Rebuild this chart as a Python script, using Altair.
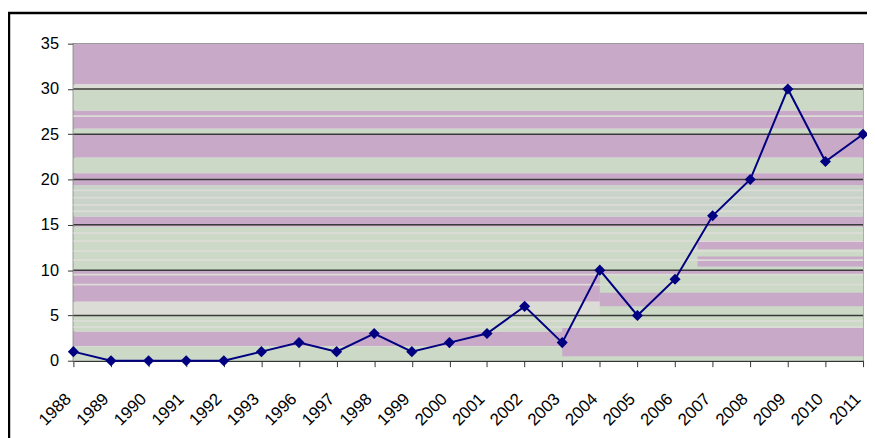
import altair as alt
import pandas as pd

# ---- data ----
years = ["1988", "1989", "1990", "1991", "1992", "1993", "1996", "1997", "1998",
         "1999", "2000", "2001", "2002", "2003", "2004", "2005", "2006", "2007",
         "2008", "2009", "2010", "2011"]
values = [1, 0, 0, 0, 0, 1, 2, 1, 3, 1, 2, 3, 6, 2, 10, 5, 9, 16, 20, 30, 22, 25]

y_ticks = [0, 5, 10, 15, 20, 25, 30, 35]
grid_values = [5, 10, 15, 20, 25, 30]

# background texture bands (value ranges, category index span, tone)
band_lo = [30.5, 30.0, 27.6, 25.6, 25.0, 22.4, 20.7, 19.4, 15.9, 14.8, 10.0, 6.5, 5.0, 3.2, 1.6, 0.0,
           0.5, 5.0, 6.0, 12.3, 10.4,
           18.7, 17.9, 17.1, 16.4, 14.0, 13.1, 12.0, 11.0, 4.3, 3.6, 9.4, 8.3, 26.9]
band_hi = [35.0, 30.5, 30.0, 27.6, 25.6, 25.0, 22.4, 20.7, 19.4, 15.9, 14.8, 10.0, 6.5, 5.0, 3.2, 1.6,
           3.6, 9.5, 7.5, 13.3, 11.5,
           18.9, 18.1, 17.3, 16.6, 14.2, 13.3, 12.2, 11.2, 4.5, 3.8, 9.6, 8.5, 27.1]
band_start = [0, 0, 0, 0, 0, 0, 0, 0, 0, 0, 0, 0, 0, 0, 0, 0,
              13, 14, 14, 16.6, 16.6,
              0, 0, 0, 0, 0, 0, 0, 0, 0, 0, 0, 0, 0]
band_end = [21] * 16 + [21, 21, 21, 21, 21] + [21] * 13
band_tone = ["p", "l", "g", "p", "g", "p", "g", "p", "m", "p", "g", "p", "l", "g", "p", "g",
             "p", "g", "p", "p", "p",
             "l", "l", "l", "l", "l", "l", "l", "l", "l", "l", "l", "l", "l"]

tone_domain = ["p", "g", "m", "l"]
tone_colors = ["#c8a9c7", "#cbd9c6", "#c9d3c9", "#dcdcd6"]

W, H = 797, 320

df = pd.DataFrame({"year": years, "value": values})
bands = pd.DataFrame({"lo": band_lo, "hi": band_hi, "x0": band_start, "x1": band_end, "tone": band_tone})
grid = pd.DataFrame({"g": grid_values})

yscale = alt.Scale(domain=[0, 35], nice=False, zero=True)
yaxis = alt.Axis(title=None, values=y_ticks, tickSize=6, tickColor="#333333",
                 domainColor="#808080", domainWidth=2, labelFontSize=16.5,
                 labelFont="Liberation Sans", labelColor="black", labelPadding=9,
                 grid=False)

bg = alt.Chart(bands).mark_rect(strokeWidth=0).encode(
    x=alt.X("x0:Q", scale=alt.Scale(domain=[0, 21], nice=False, zero=False), axis=None),
    x2="x1:Q",
    y=alt.Y("lo:Q", scale=yscale, axis=yaxis),
    y2="hi:Q",
    color=alt.Color("tone:N", scale=alt.Scale(domain=tone_domain, range=tone_colors), legend=None),
)

rules = alt.Chart(grid).mark_rule(color="#3a3a3a", strokeWidth=1.5).encode(
    y=alt.Y("g:Q", scale=yscale)
)

xenc = alt.X("year:O", sort=years, scale=alt.Scale(type="point", padding=0),
             axis=alt.Axis(title=None, labelAngle=-45, labelAlign="right", labelBaseline="top",
                           labelPadding=24, labelOffset=-11, tickSize=6, tickColor="#333333",
                           domainColor="#333333", domainWidth=1.5, labelFontSize=17,
                           labelFont="Liberation Sans", labelColor="black", grid=False))

line = alt.Chart(df).mark_line(
    color="#000080", strokeWidth=2,
    point=alt.OverlayMarkDef(shape="diamond", filled=True, size=125, color="#000080", opacity=1),
).encode(x=xenc, y=alt.Y("value:Q", scale=yscale))

frame = alt.Chart(pd.DataFrame({"a": [0]})).mark_rect(
    fill="transparent", stroke="black", strokeWidth=2.5
).encode(x=alt.value(-65), x2=alt.value(830), y=alt.value(-31), y2=alt.value(500))

chart = alt.layer(bg, rules, line, frame).resolve_scale(x="independent").properties(
    width=W, height=H,
    autosize=alt.AutoSizeParams(type="none"),
    padding={"left": 66, "top": 34, "right": 4, "bottom": 76},
    background="white",
).configure_view(stroke="#8a9a8a", strokeWidth=1.5)

chart.save("out.html", embed_options={"renderer": "svg", "actions": False})
